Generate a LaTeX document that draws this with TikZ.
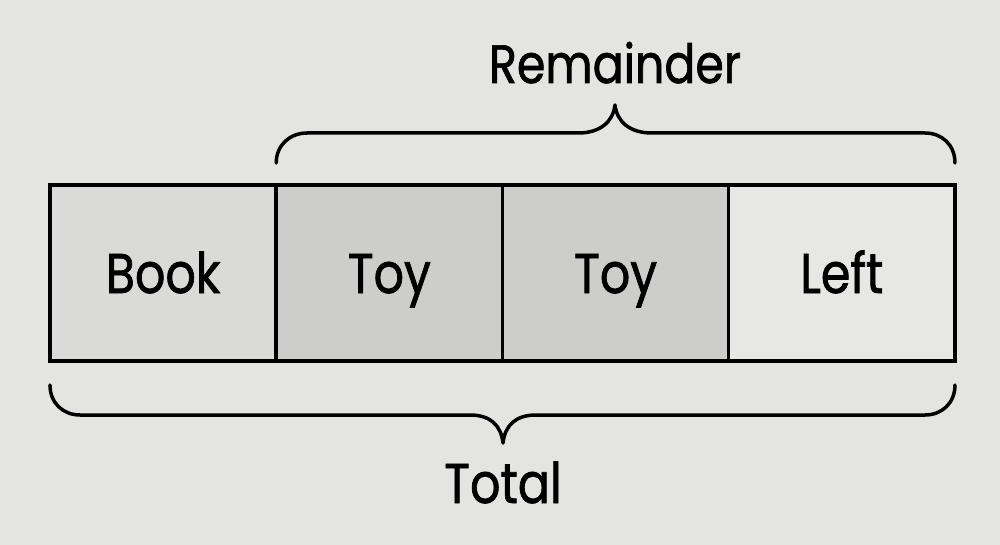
\documentclass[tikz,border=0pt]{standalone}
\usepackage{fontspec}
\setmainfont{Poppins}[FakeStretch=0.85,FakeBold=1.2]
\usetikzlibrary{positioning}
\definecolor{paper}{HTML}{E4E4E2}
\definecolor{bookgray}{HTML}{DADAD8}
\definecolor{toygray}{HTML}{CDCDCB}
\definecolor{leftgray}{HTML}{E7E7E5}
\begin{document}
\begin{tikzpicture}[x=1pt,y=-1pt,
  part/.style={draw,line width=3.5pt,minimum width=226.25pt,minimum height=176pt,
    outer sep=0pt,inner sep=0pt,text height=40pt,text depth=0pt,
    font=\fontsize{56}{64}\selectfont},
  brace/.style={line width=3.5pt,line cap=round,line join=round}]
\fill[paper] (0,0) rectangle (1000,545);
\useasboundingbox (0,0) rectangle (1000,545);
\node[part,fill=bookgray] (book) at (163.1,273) {Book};
\node[part,fill=toygray,right=0pt of book] (toya) {Toy};
\node[part,fill=toygray,right=0pt of toya] (toyb) {Toy};
\node[part,fill=leftgray,right=0pt of toyb] (left) {Left};
% remainder brace
\coordinate (rtip) at (615,105);
\draw[brace] ([yshift=22pt]toya.north west) .. controls +(0,-18) and (290,133) .. (307,133)
  -- (578,133) .. controls (600,133) and (613,122) .. (rtip)
  .. controls (617,122) and (630,133) .. (652,133) -- (925,133)
  .. controls (942,133) and ([yshift=40pt]left.north east) .. ([yshift=22pt]left.north east);
\node[font=\fontsize{54}{62}\selectfont,anchor=base] (remainder) at ([yshift=22pt]rtip) {Remainder};
% total brace
\coordinate (ttip) at (503,443);
\draw[brace] ([yshift=-24pt]book.south west) .. controls +(0,18) and (63,415) .. (80,415)
  -- (470,415) .. controls (490,415) and (501,425) .. (ttip)
  .. controls (505,425) and (516,415) .. (536,415) -- (925,415)
  .. controls (942,415) and ([yshift=-42pt]left.south east) .. ([yshift=-24pt]left.south east);
\node[font=\fontsize{56}{64}\selectfont,anchor=base] (total) at ([yshift=-60pt]ttip) {Total};
\end{tikzpicture}
\end{document}
